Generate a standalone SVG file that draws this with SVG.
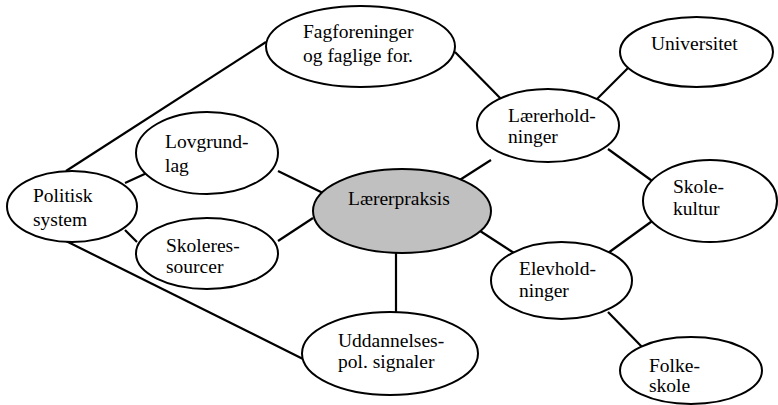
<svg xmlns="http://www.w3.org/2000/svg" width="778" height="405" viewBox="0 0 778 405">
<style>
  .n ellipse { fill: #ffffff; stroke: #000000; stroke-width: 2; }
  .n.c ellipse { fill: #c0c0c0; }
  .n text { font-family: 'Liberation Serif', 'DejaVu Serif', serif; font-size: 19.5px; fill: #000000; }
  #connectors line { stroke: #000000; stroke-width: 2.2; }
</style>
<rect width="778" height="405" fill="#ffffff"/>
<g id="connectors">
  <line x1="66" y1="171" x2="266" y2="42"/>
  <line x1="125" y1="183" x2="149" y2="172"/>
  <line x1="278" y1="171" x2="325" y2="194"/>
  <line x1="125" y1="230" x2="137" y2="242"/>
  <line x1="278" y1="241" x2="313" y2="218"/>
  <line x1="66" y1="241" x2="303" y2="359"/>
  <line x1="396" y1="253" x2="396" y2="312"/>
  <line x1="455" y1="52" x2="503" y2="101"/>
  <line x1="596" y1="100" x2="632" y2="64"/>
  <line x1="491" y1="160" x2="455" y2="183"/>
  <line x1="608" y1="149" x2="655" y2="183"/>
  <line x1="477" y1="229" x2="514" y2="253"/>
  <line x1="608" y1="253" x2="655" y2="219"/>
  <line x1="608" y1="312" x2="643" y2="348"/>
</g>
<g id="fagforeninger" class="n">
  <ellipse cx="360.5" cy="46.5" rx="94.5" ry="40.5"/>
  <text x="303" y="38">Fagforeninger</text>
  <text x="303" y="62">og faglige for.</text>
</g>
<g id="universitet" class="n">
  <ellipse cx="696.5" cy="52" rx="76.5" ry="35"/>
  <text x="651" y="50">Universitet</text>
</g>
<g id="laererholdninger" class="n">
  <ellipse cx="548" cy="125.5" rx="71" ry="36.5"/>
  <text x="508" y="122">Lærerhold-</text>
  <text x="508" y="143">ninger</text>
</g>
<g id="skolekultur" class="n">
  <ellipse cx="710" cy="201" rx="67" ry="41"/>
  <text x="673" y="193">Skole-</text>
  <text x="673" y="215">kultur</text>
</g>
<g id="lovgrundlag" class="n">
  <ellipse cx="207" cy="153" rx="71" ry="41"/>
  <text x="165" y="148">Lovgrund-</text>
  <text x="165" y="172">lag</text>
</g>
<g id="politisk" class="n">
  <ellipse cx="72" cy="206.5" rx="65" ry="35.5"/>
  <text x="33" y="202">Politisk</text>
  <text x="33" y="226">system</text>
</g>
<g id="skoleressourcer" class="n">
  <ellipse cx="207" cy="253.5" rx="71" ry="35.5"/>
  <text x="166" y="252">Skoleres-</text>
  <text x="166" y="273">sourcer</text>
</g>
<g id="laererpraksis" class="n c">
  <ellipse cx="402" cy="211" rx="89" ry="42"/>
  <text x="348" y="205">Lærerpraksis</text>
</g>
<g id="uddannelses" class="n">
  <ellipse cx="390" cy="353.5" rx="88" ry="41.5"/>
  <text x="338" y="347">Uddannelses-</text>
  <text x="338" y="368">pol. signaler</text>
</g>
<g id="elevholdninger" class="n">
  <ellipse cx="561.5" cy="280.5" rx="70.5" ry="38.5"/>
  <text x="519" y="275">Elevhold-</text>
  <text x="519" y="297">ninger</text>
</g>
<g id="folkeskole" class="n">
  <ellipse cx="691" cy="370.5" rx="71" ry="33.5"/>
  <text x="649" y="372">Folke-</text>
  <text x="649" y="392">skole</text>
</g>
</svg>
